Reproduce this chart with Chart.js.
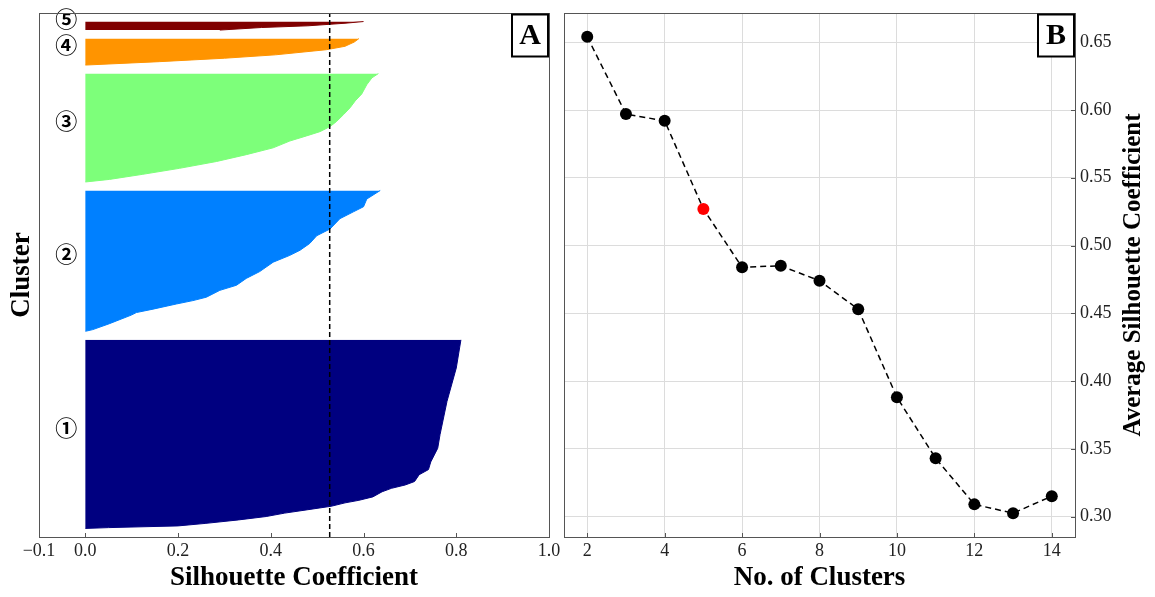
<!DOCTYPE html>
<html>
<head>
<meta charset="utf-8">
<script src="https://cdn.jsdelivr.net/npm/chart.js@4/dist/chart.umd.min.js"></script>
<style>
  html, body { margin: 0; padding: 0; background: #fff; }
  #wrap { position: relative; width: 1155px; height: 597px; }
  #wrap canvas { position: absolute; left: 0; top: 0; }
</style>
</head>
<body>
<div id="wrap">
  <canvas id="silChart" width="1155" height="597"></canvas>
  <canvas id="kChart" width="1155" height="597"></canvas>
</div>
<script>
/**
 * Panel A: silhouette profile of the 5-cluster solution.
 * Each cluster: sample rank inside the cluster (bottom = lowest value) and silhouette value.
 */
var clusterLabels = ['\u2460', '\u2461', '\u2462', '\u2463', '\u2464'];
var clusterSizes = [221, 165, 127, 31, 10];

var c1Rank = [0, 1, 3, 6, 10, 14, 18, 22, 26, 30, 33, 37, 43, 47, 51, 55, 63, 69, 78, 94, 110, 149, 188, 221];
var c1Sil  = [0.00, 0.05, 0.20, 0.26, 0.33, 0.39, 0.43, 0.48, 0.53, 0.56, 0.59, 0.62, 0.64, 0.66, 0.69, 0.71, 0.72, 0.74, 0.745, 0.76, 0.765, 0.78, 0.80, 0.81];

var c2Rank = [0, 2, 9, 19, 22, 26, 32, 36, 40, 48, 54, 62, 70, 81, 89, 95, 103, 112, 120, 132, 140, 146, 155, 165];
var c2Sil  = [0.00, 0.016, 0.052, 0.099, 0.110, 0.146, 0.196, 0.232, 0.261, 0.290, 0.326, 0.347, 0.376, 0.405, 0.441, 0.463, 0.484, 0.499, 0.528, 0.549, 0.578, 0.600, 0.607, 0.636];

var c3Rank = [0, 3, 9, 16, 24, 32, 40, 48, 54, 59, 65, 71, 79, 87, 95, 103, 114, 122, 127];
var c3Sil  = [0.00, 0.052, 0.124, 0.203, 0.283, 0.347, 0.405, 0.441, 0.477, 0.506, 0.528, 0.542, 0.557, 0.571, 0.582, 0.596, 0.607, 0.618, 0.632];

var c4Rank = [0, 4, 8, 12, 18, 22, 27, 31];
var c4Sil  = [0.00, 0.16, 0.30, 0.41, 0.52, 0.56, 0.58, 0.59];

var c5Rank = [0, 3, 5, 8, 10];
var c5Sil  = [0.29, 0.38, 0.48, 0.56, 0.60];

var silTicks = [-0.1, 0, 0.2, 0.4, 0.6, 0.8, 1.0];

/**
 * Panel B: average silhouette coefficient vs number of clusters
 */
var kValues = [2, 3, 4, 5, 6, 7, 8, 9, 10, 11, 12, 13, 14];
var avgSil  = [0.654, 0.597, 0.592, 0.527, 0.484, 0.485, 0.474, 0.453, 0.388, 0.343, 0.309, 0.3025, 0.315];
var kTicks = [2, 4, 6, 8, 10, 12, 14];
var avgTicks = [0.30, 0.35, 0.40, 0.45, 0.50, 0.55, 0.60, 0.65];
var chosenK = 5;

// styles
var clusterColors = ['#000080', '#0080ff', '#7dff7a', '#ff9400', '#800000'];
var SERIF = "'Liberation Serif', 'DejaVu Serif', serif";
var tickFont = { family: SERIF, size: 18 };
var titleFont = { family: SERIF, size: 27, weight: 'bold' };
var frameColor = '#555';

var clusterRanks = [c1Rank, c2Rank, c3Rank, c4Rank, c5Rank];
var clusterSil = [c1Sil, c2Sil, c3Sil, c4Sil, c5Sil];
var chosenAvg = avgSil[kValues.indexOf(chosenK)];

// Stack the clusters bottom-up with a gap of 10 samples (like the sklearn example)
var gap = 10;
var yLower = gap;
var silDatasets = [];
var labelY = [];
clusterSizes.forEach(function (size, i) {
	var pts = clusterRanks[i].map(function (r, j) {
		return { x: clusterSil[i][j], y: yLower + r };
	});
	silDatasets.push({
		data: pts,
		backgroundColor: clusterColors[i],
		borderColor: clusterColors[i],
		borderWidth: 1,
		fill: 'origin',
		pointRadius: 0,
		tension: 0,
		order: 2
	});
	labelY.push(yLower + size / 2);
	yLower += size + gap;
});
var yMax = yLower;

// average line
silDatasets.push({
	data: [{ x: chosenAvg, y: 0 }, { x: chosenAvg, y: yMax }],
	borderColor: '#000',
	borderWidth: 1.5,
	borderDash: [5, 3],
	pointRadius: 0,
	fill: false,
	order: 0
});

function fixTicks(values) {
	return function (scale) {
		scale.ticks = values.map(function (v) { return { value: v }; });
	};
}

// frame, inward ticks and the panel letter
function panelPlugin(letter, tickAxes) {
	return {
		id: 'panel' + letter,
		afterDraw: function (chart) {
			var ctx = chart.ctx, a = chart.chartArea;
			ctx.save();
			ctx.strokeStyle = frameColor;
			ctx.lineWidth = 1;
			ctx.beginPath();
			tickAxes.forEach(function (id) {
				var s = chart.scales[id];
				s.ticks.forEach(function (t) {
					var p = Math.round(s.getPixelForValue(t.value)) + 0.5;
					if (s.isHorizontal()) {
						ctx.moveTo(p, a.bottom); ctx.lineTo(p, a.bottom - 4);
					} else {
						ctx.moveTo(a.right, p); ctx.lineTo(a.right - 4, p);
					}
				});
			});
			ctx.stroke();
			ctx.strokeRect(Math.round(a.left) + 0.5, Math.round(a.top) + 0.5, Math.round(a.right - a.left), Math.round(a.bottom - a.top));

			// letter box
			var bw = 36, bh = 42;
			var bx = a.right - bw - 1, by = a.top + 1.5;
			ctx.fillStyle = '#fff';
			ctx.fillRect(bx, by, bw, bh);
			ctx.strokeStyle = '#000';
			ctx.lineWidth = 2;
			ctx.strokeRect(bx, by, bw, bh);
			ctx.fillStyle = '#000';
			ctx.font = 'bold 30px ' + SERIF;
			ctx.textAlign = 'center';
			ctx.textBaseline = 'middle';
			ctx.fillText(letter, bx + bw / 2, by + bh / 2 + 1);
			ctx.restore();
		}
	};
}

var clusterLabelPlugin = {
	id: 'clusterLabels',
	afterDatasetsDraw: function (chart) {
		var ctx = chart.ctx;
		var xs = chart.scales.x, ys = chart.scales.y;
		ctx.save();
		ctx.fillStyle = '#000';
		ctx.font = "bold 22px 'Noto Sans CJK JP', 'DejaVu Sans', sans-serif";
		ctx.textAlign = 'center';
		ctx.textBaseline = 'middle';
		clusterLabels.forEach(function (lab, i) {
			ctx.fillText(lab, xs.getPixelForValue(-0.041), ys.getPixelForValue(labelY[i]) - 7);
		});
		ctx.restore();
	}
};

var silChart = new Chart(document.getElementById('silChart'), {
	type: 'line',
	data: { datasets: silDatasets },
	options: {
		indexAxis: 'y',
		responsive: false,
		animation: false,
		devicePixelRatio: 1,
		layout: { padding: { left: 0, top: 13, right: 606, bottom: 0 } },
		plugins: { legend: { display: false }, tooltip: { enabled: false } },
		scales: {
			x: {
				type: 'linear', min: -0.1, max: 1.0,
				afterBuildTicks: fixTicks(silTicks),
				afterFit: function (s) { s.height = 60; },
				grid: { display: false, drawTicks: false },
				border: { display: false },
				ticks: {
					font: tickFont, color: '#222', padding: 3, autoSkip: false, maxRotation: 0,
					callback: function (v) { return v.toFixed(1).replace('-', '\u2212'); }
				},
				title: { display: true, text: 'Silhouette Coefficient', font: titleFont, color: '#000', padding: { top: 0, bottom: 3 } }
			},
			y: {
				type: 'linear', min: 0, max: yMax,
				afterFit: function (s) { s.width = 39; },
				grid: { display: false, drawTicks: false },
				border: { display: false },
				ticks: { display: false },
				title: { display: true, text: 'Cluster', font: titleFont, color: '#000', padding: { top: 6, bottom: 0 } }
			}
		}
	},
	plugins: [clusterLabelPlugin, panelPlugin('A', ['x'])]
});

// Panel B
var lo = Math.min.apply(null, avgSil), hi = Math.max.apply(null, avgSil);
var yMarg = (hi - lo) * 0.05;
var xMarg = (kValues[kValues.length - 1] - kValues[0]) * 0.05;

var rightTitlePlugin = {
	id: 'rightTitle',
	afterDraw: function (chart) {
		var ctx = chart.ctx, a = chart.chartArea;
		ctx.save();
		ctx.translate(1134, (a.top + a.bottom) / 2);
		ctx.rotate(-Math.PI / 2);
		ctx.fillStyle = '#000';
		ctx.font = 'bold 25px ' + SERIF;
		ctx.textAlign = 'center';
		ctx.textBaseline = 'middle';
		ctx.fillText('Average Silhouette Coefficient', 0, 0);
		ctx.restore();
	}
};

var kChart = new Chart(document.getElementById('kChart'), {
	type: 'line',
	data: {
		datasets: [{
			data: kValues.map(function (k, i) { return { x: k, y: avgSil[i] }; }),
			borderColor: '#000',
			borderWidth: 1.5,
			borderDash: [6, 4],
			tension: 0,
			fill: false,
			pointRadius: 6,
			pointBorderWidth: 0,
			pointBackgroundColor: kValues.map(function (k) { return k === chosenK ? '#ff0000' : '#000'; }),
			pointBorderColor: kValues.map(function (k) { return k === chosenK ? '#ff0000' : '#000'; })
		}]
	},
	options: {
		responsive: false,
		animation: false,
		devicePixelRatio: 1,
		layout: { padding: { left: 564, top: 13, right: 0, bottom: 0 } },
		plugins: { legend: { display: false }, tooltip: { enabled: false } },
		scales: {
			x: {
				type: 'linear', min: kValues[0] - xMarg, max: kValues[kValues.length - 1] + xMarg,
				afterBuildTicks: fixTicks(kTicks),
				afterFit: function (s) { s.height = 60; },
				grid: { color: '#dcdcdc', lineWidth: 1, drawTicks: false },
				border: { display: false },
				ticks: { font: tickFont, color: '#222', padding: 3, autoSkip: false, maxRotation: 0 },
				title: { display: true, text: 'No. of Clusters', font: titleFont, color: '#000', padding: { top: 0, bottom: 3 } }
			},
			y: {
				type: 'linear', position: 'right', min: lo - yMarg, max: hi + yMarg,
				afterBuildTicks: fixTicks(avgTicks),
				afterFit: function (s) { s.width = 80; s.paddingTop = 0; s.paddingBottom = 0; },
				grid: { color: '#dcdcdc', lineWidth: 1, drawTicks: false },
				border: { display: false },
				ticks: {
					font: tickFont, color: '#222', padding: 5, autoSkip: false,
					callback: function (v) { return v.toFixed(2); }
				}
			}
		}
	},
	plugins: [panelPlugin('B', ['x', 'y']), rightTitlePlugin]
});
</script>
</body>
</html>
